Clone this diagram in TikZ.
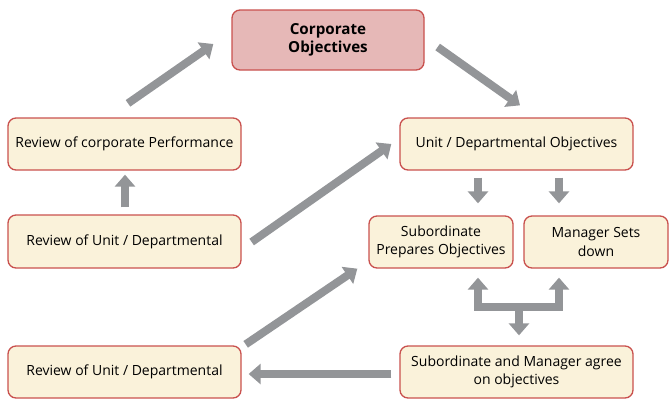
\documentclass[tikz,border=0pt]{standalone}
\usepackage{fontspec}
\setmainfont{Open Sans}
\usetikzlibrary{arrows.meta,calc}
\definecolor{boxred}{HTML}{C9514E}
\definecolor{corpfill}{HTML}{E6B8B7}
\definecolor{boxfill}{HTML}{FAF2DA}
\definecolor{arrowgrey}{HTML}{939598}
\tikzset{
  stepbox/.style={draw=boxred, line width=1pt, fill=boxfill, rounded corners=6pt,
    align=center, inner sep=0pt, font=\fontsize{10.5}{13.7}\selectfont},
  corpbox/.style={stepbox, fill=corpfill, font=\fontsize{11.4}{13.7}\selectfont\bfseries},
  bigarrow/.style={draw=arrowgrey, line width=6pt, -{Triangle[width=15pt,length=9pt]}}
}
\begin{document}
\begin{tikzpicture}[x=0.75pt,y=-0.75pt]
  \useasboundingbox (0,0) rectangle (672,405);
  \node[corpbox, minimum width=144pt, minimum height=45pt] (corp) at (328,40) {Corporate\\Objectives};
  \node[stepbox, minimum width=174.75pt, minimum height=39pt] (perf) at (124.5,144) {Review of corporate Performance};
  \node[stepbox, minimum width=174.75pt, minimum height=39pt] (unit) at (516.5,144) {Unit / Departmental Objectives};
  \node[stepbox, minimum width=174.75pt, minimum height=39.75pt] (revmid) at (124.5,241.5) {Review of Unit / Departmental};
  \node[stepbox, minimum width=108pt, minimum height=39pt] (sub) at (441,242) {Subordinate\\Prepares Objectives};
  \node[stepbox, minimum width=108pt, minimum height=39pt] (mgr) at (596,242) {Manager Sets\\down};
  \node[stepbox, minimum width=174.75pt, minimum height=39pt] (revbot) at (124.5,372) {Review of Unit / Departmental};
  \node[stepbox, minimum width=174.75pt, minimum height=39pt] (agree) at (516.5,372) {Subordinate and Manager agree\\on objectives};
  \coordinate (fork) at (519,307);

  \draw[bigarrow] ($(perf.north)+(3.5,-14)$) -- ($(corp.west)+(-18,4)$);
  \draw[bigarrow] ($(corp.east)+(13,7)$) -- ($(unit.north)+(3.5,-12)$);
  \draw[bigarrow] ($(revmid.north)+(0.5,-7)$) -- ($(perf.south)+(0.5,4)$);
  \draw[bigarrow] ($(revmid.east)+(10,0.5)$) -- ($(unit.west)+(-8,0)$);
  \draw[bigarrow] ($(revbot.north east)+(4,-1)$) -- ($(sub.south west)+(-11,0)$);
  \draw[bigarrow] ($(agree.west)+(-8,2)$) -- ($(revbot.east)+(7,2)$);
  \draw[bigarrow] ($(unit.south)+(-38.5,7)$) -- ($(sub.north)+(37,-12)$);
  \draw[bigarrow] ($(unit.south)+(42.5,7)$) -- ($(mgr.north)+(-37,-12)$);
  \draw[bigarrow] (fork) -| ($(sub.south)+(37,9)$);
  \draw[bigarrow] (fork) -| ($(mgr.south)+(-37,9)$);
  \draw[bigarrow] (fork) -- ($(agree.north)+(2.5,-10)$);
\end{tikzpicture}
\end{document}
